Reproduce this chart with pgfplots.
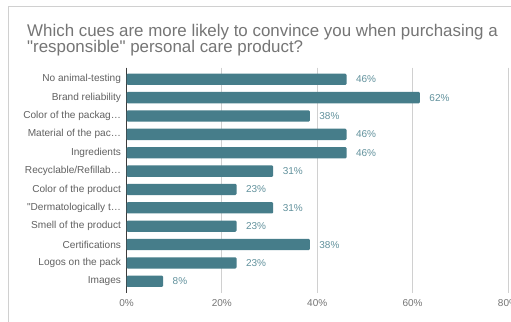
\documentclass[border=0pt]{standalone}
\usepackage{pgfplots}
\pgfplotsset{compat=1.18}
\usepackage{fontspec}
\setmainfont{Liberation Sans}[Ligatures=TeXOff]
\definecolor{barc}{RGB}{70,125,138}
\definecolor{lblc}{RGB}{98,146,157}
\definecolor{txt}{RGB}{117,117,117}
\definecolor{ytxt}{RGB}{97,97,97}
\definecolor{gridc}{RGB}{208,208,208}
\definecolor{axc}{RGB}{60,60,60}
\begin{document}
\begin{tikzpicture}
\useasboundingbox (0,0) rectangle (511bp,-322bp);
\fill[white] (0,0) rectangle (511bp,-322bp);
\draw[gridc, line width=0.8bp] (8bp,-322bp) -- (8bp,-6bp) -- (511bp,-6bp);
\node[anchor=base west, text=txt, font=\fontsize{16.9bp}{18bp}\selectfont, inner sep=0] at (27bp,-36bp) {Which cues are more likely to convince you when purchasing a};
\node[anchor=base west, text=txt, font=\fontsize{16.9bp}{18bp}\selectfont, inner sep=0] at (27bp,-52bp) {"responsible" personal care product?};
\begin{axis}[
  at={(126.5bp,-292.7bp)}, anchor=south west,
  scale only axis, width=381.5bp, height=225bp,
  xmin=0, xmax=80, ymin=-0.63, ymax=11.62,
  y dir=reverse,
  xbar, bar width=11.3bp,
  /pgf/number format/assume math mode=true,
  axis line style={draw=none},
  major tick length=0pt,
  xmajorgrids, grid style={gridc, line width=0.8bp},
  xtick={0,20,40,60,80},
  xticklabels={0\%,20\%,40\%,60\%,80\%},
  extra x ticks={0}, extra x tick labels={},
  extra x tick style={grid style={axc, line width=0.8bp}},
  ytick={0,1,2,3,4,5,6,7,8,9,10,11},
  yticklabels={No animal-testing,Brand reliability,Color of the packag…,Material of the pac…,Ingredients,Recyclable/Refillab…,Color of the product,"Dermatologically t…,Smell of the product,Certifications,Logos on the pack,Images},
  x tick label style={font=\fontsize{10bp}{11bp}\selectfont, text=txt, yshift=-3.5bp},
  y tick label style={font=\fontsize{10.1bp}{11bp}\selectfont, text=ytxt, xshift=-2bp},
  nodes near coords={\pgfmathprintnumber[fixed,precision=0]{\pgfplotspointmeta}\%},
  nodes near coords style={font=\fontsize{10bp}{11bp}\selectfont, text=lblc, anchor=west, xshift=6bp},
  clip=false,
]
\addplot[fill=barc, draw=none, rounded corners=1.2bp] coordinates {
(46.15,0) (61.54,1) (38.46,2) (46.15,3) (46.15,4) (30.77,5) (23.08,6) (30.77,7) (23.08,8) (38.46,9) (23.08,10) (7.69,11)
};
\end{axis}
\end{tikzpicture}
\end{document}
